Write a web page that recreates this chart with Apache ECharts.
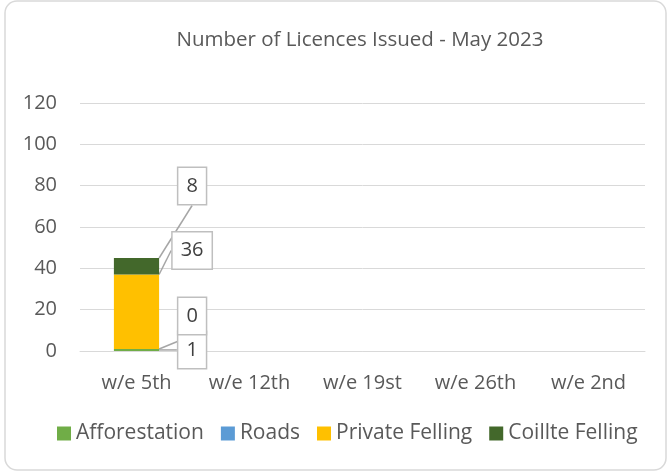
<!DOCTYPE html>
<html>
<head>
<meta charset="utf-8">
<script src="https://cdn.jsdelivr.net/npm/echarts@6/dist/echarts.min.js"></script>
<style>
  html, body { margin: 0; padding: 0; background: #fff; }
  #chart { width: 668px; height: 473px; }
</style>
</head>
<body>
<div id="chart"></div>
<script>
var weeks = ['w/e 5th', 'w/e 12th', 'w/e 19st', 'w/e 26th', 'w/e 2nd'];
var afforestation = [1, null, null, null, null];
var roads = [0, null, null, null, null];
var privateFelling = [36, null, null, null, null];
var coillteFelling = [8, null, null, null, null];
var yTicks = [0, 20, 40, 60, 80, 100, 120];

var fontName = 'Open Sans';
var textColor = '#595959';

// label callout, offset from the top of the bar segment
function calloutLayout(offsetY) {
  return function (params) {
    return {
      x: params.rect.x + params.rect.width + 33,
      y: params.rect.y + offsetY,
      align: 'center',
      verticalAlign: 'middle'
    };
  };
}

function makeSeries(name, data, color, offsetY) {
  return {
    name: name,
    type: 'bar',
    stack: 'total',
    barWidth: '40%',
    data: data,
    itemStyle: { color: color },
    label: {
      show: true,
      position: 'inside',
      formatter: '{c}',
      color: '#404040',
      fontFamily: fontName,
      fontSize: 20,
      lineHeight: 24,
      backgroundColor: '#fff',
      borderColor: '#bfbfbf',
      borderWidth: 1.5,
      padding: [7, 8, 5, 8]
    },
    labelLine: {
      show: true,
      lineStyle: { color: '#a6a6a6', width: 1.5 }
    },
    labelLayout: calloutLayout(offsetY)
  };
}

var myChart = echarts.init(document.getElementById('chart'));

var option = {
  animation: false,
  graphic: [{
    type: 'rect',
    shape: { x: 5, y: 1, width: 661, height: 469, r: 12 },
    style: { fill: 'none', stroke: '#d9d9d9', lineWidth: 1.5 },
    silent: true
  }],
  title: {
    text: 'Number of Licences Issued - May 2023',
    left: 355,
    textAlign: 'center',
    top: 25,
    textStyle: { fontFamily: fontName, fontSize: 20.5, fontWeight: 'normal', color: textColor }
  },
  legend: {
    bottom: 24,
    left: 52,
    icon: 'rect',
    itemWidth: 14,
    itemHeight: 14,
    itemGap: 17,
    itemStyle: { borderWidth: 0 },
    textStyle: { fontFamily: fontName, fontSize: 21, color: textColor }
  },
  grid: { left: 80, right: 23, top: 103, bottom: 122 },
  xAxis: {
    type: 'category',
    data: weeks,
    axisTick: { show: false },
    axisLine: { lineStyle: { color: '#d9d9d9' } },
    axisLabel: { fontFamily: fontName, fontSize: 20, color: textColor, margin: 22 }
  },
  yAxis: {
    type: 'value',
    min: yTicks[0],
    max: yTicks[yTicks.length - 1],
    interval: 20,
    axisLine: { show: false },
    axisTick: { show: false },
    splitLine: { lineStyle: { color: '#d9d9d9' } },
    axisLabel: { fontFamily: fontName, fontSize: 20, color: textColor, margin: 23 }
  },
  series: [
    makeSeries('Afforestation', afforestation, '#70ad47', 1),
    makeSeries('Roads', roads, '#5b9bd5', -33),
    makeSeries('Private Felling', privateFelling, '#ffc000', -24),
    makeSeries('Coillte Felling', coillteFelling, '#43682b', -72)
  ]
};

myChart.setOption(option);
</script>
</body>
</html>
